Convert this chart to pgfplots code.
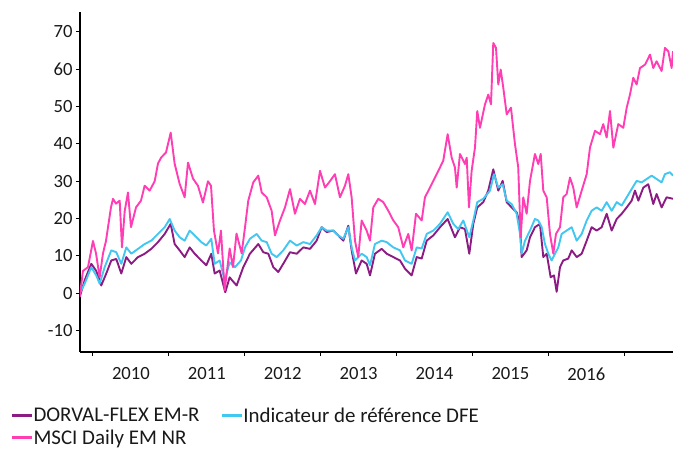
\documentclass[border=0pt]{standalone}
\usepackage{fontspec}
\setmainfont{Carlito}
\usepackage{pgfplots}
\pgfplotsset{compat=1.18}
\definecolor{dorval}{RGB}{140,28,132}
\definecolor{indic}{RGB}{66,199,240}
\definecolor{msci}{RGB}{255,62,180}
\begin{document}
\begin{tikzpicture}
\begin{axis}[name=ax, scale only axis, width=593bp, height=340bp,
  xmin=2009.829, xmax=2017.642, ymin=-15.7, ymax=75.3,
  axis lines=left, axis line style={line width=1.5bp, -},
  ytick={-10,0,10,20,30,40,50,60,70},
  xtick={2010,2011,2012,2013,2014,2015,2016,2017}, xticklabels={},
  extra x ticks={2010.5,2011.5,2012.5,2013.5,2014.5,2015.5,2016.5},
  extra x tick labels={2010,2011,2012,2013,2014,2015,2016},
  extra x tick style={major tick length=0pt, xticklabel style={yshift=-12bp}},
  tick align=outside, major tick length=4bp, tick style={black, line width=1bp},
  ticklabel style={font=\fontsize{18.7}{22}\selectfont, text=black!90},
  /pgf/number format/assume math mode=true,
  legend columns=2, legend cell align=left,
  legend style={draw=none, fill=none, inner sep=0pt, at={(-0.118,-0.162)}, anchor=north west,
    font=\fontsize{21}{25}\selectfont, text=black!90, nodes={inner sep=0.5bp}, row sep=5bp,
    /tikz/every even column/.append style={column sep=20bp}},
  legend image code/.code={\draw[#1, line width=2.8bp] (0bp,0bp) -- (20bp,0bp);},
  every axis plot/.append style={line width=1.9bp, line join=round},
]
\addplot[dorval] coordinates {
(2009.825,-1) (2009.891,3.5) (2009.978,7.9) (2010.043,6) (2010.109,2.1) (2010.175,5.3)
(2010.241,8.8) (2010.307,9.2) (2010.373,5.3) (2010.439,9.7) (2010.505,7.9) (2010.593,9.7)
(2010.681,10.6) (2010.768,11.9) (2010.856,13.7) (2010.945,15.9) (2011.024,18.6) (2011.076,13.2)
(2011.142,11.5) (2011.208,9.7) (2011.274,12.3) (2011.340,10.6) (2011.427,8.8) (2011.493,7.5)
(2011.559,10.6) (2011.603,5.3) (2011.669,6.1) (2011.743,0.3) (2011.801,4.3) (2011.832,3.5)
(2011.893,2.1) (2011.980,7) (2012.068,10.6) (2012.178,13.2) (2012.244,11) (2012.310,10.6)
(2012.376,7) (2012.441,5.7) (2012.507,7.9) (2012.596,11) (2012.684,10.6) (2012.771,12.3)
(2012.859,11.9) (2012.947,14.1) (2013.013,17.7) (2013.079,16.4) (2013.166,16.8) (2013.232,15.5)
(2013.298,14.1) (2013.364,18.1) (2013.408,11.5) (2013.465,5.3) (2013.540,8.8) (2013.606,7.9)
(2013.650,4.8) (2013.715,10.6) (2013.804,11.9) (2013.870,10.6) (2013.957,9.7) (2014.045,8.8)
(2014.111,6.6) (2014.199,4.8) (2014.265,9.7) (2014.331,9.3) (2014.397,14.1) (2014.484,15.5)
(2014.572,17.7) (2014.673,19.9) (2014.769,15) (2014.835,17.7) (2014.901,17.2) (2014.958,10.6)
(2015.011,18.6) (2015.063,23) (2015.142,24.4) (2015.208,27.5) (2015.274,33.2) (2015.340,27.5)
(2015.398,30.1) (2015.451,24.4) (2015.516,23) (2015.582,21.7) (2015.626,18.6) (2015.648,9.7)
(2015.714,11.5) (2015.758,15) (2015.823,17.7) (2015.889,18.6) (2015.933,9.7) (2015.978,10.6)
(2016.030,4.3) (2016.074,4.8) (2016.109,0.4) (2016.153,7) (2016.196,8.8) (2016.262,9.3)
(2016.307,11.5) (2016.373,9.7) (2016.439,10.6) (2016.505,14.1) (2016.570,17.7) (2016.636,16.8)
(2016.702,17.7) (2016.768,21.3) (2016.834,16.8) (2016.900,19.9) (2016.966,21.3) (2017.032,23)
(2017.097,24.8) (2017.141,27.5) (2017.185,24.8) (2017.251,28.3) (2017.316,29.2) (2017.382,23.9)
(2017.426,26.6) (2017.492,23) (2017.558,25.7) (2017.642,25.3)
};
\addlegendentry{DORVAL-FLEX EM-R}
\addplot[indic] coordinates {
(2009.825,0) (2009.891,2.6) (2009.978,7) (2010.043,4.8) (2010.088,2.6) (2010.154,7)
(2010.241,11.5) (2010.307,11) (2010.373,7.9) (2010.439,12.3) (2010.505,10.6) (2010.593,11.9)
(2010.681,13.2) (2010.768,14.1) (2010.856,15.9) (2010.945,17.7) (2011.011,19.9) (2011.076,16.8)
(2011.142,15) (2011.208,14.1) (2011.274,16.8) (2011.340,15.5) (2011.427,13.7) (2011.493,12.8)
(2011.559,14.6) (2011.603,7.9) (2011.669,8.8) (2011.735,3.5) (2011.801,8.3) (2011.871,7)
(2011.950,8.8) (2012.003,12.3) (2012.068,14.6) (2012.157,15.9) (2012.223,14.1) (2012.289,13.7)
(2012.354,10.6) (2012.420,9.7) (2012.507,11.5) (2012.596,14.1) (2012.684,12.8) (2012.771,13.7)
(2012.859,13.2) (2012.947,15.5) (2013.013,17.7) (2013.079,16.8) (2013.166,16.8) (2013.232,15.5)
(2013.298,14.6) (2013.364,17.7) (2013.408,12.3) (2013.452,8.8) (2013.540,10.6) (2013.606,9.7)
(2013.650,7.5) (2013.715,13.2) (2013.804,14.1) (2013.870,13.7) (2013.957,12.3) (2014.045,11.5)
(2014.111,8.8) (2014.199,7.9) (2014.265,12.3) (2014.331,12) (2014.397,15.9) (2014.484,16.8)
(2014.572,18.6) (2014.673,21.7) (2014.747,18.6) (2014.813,17.2) (2014.879,19.5) (2014.958,15)
(2015.011,19.5) (2015.063,24.4) (2015.142,25.3) (2015.231,27.5) (2015.283,31.9) (2015.340,28.3)
(2015.398,29.2) (2015.451,24.8) (2015.516,23.9) (2015.582,21.3) (2015.626,15.9) (2015.648,10.6)
(2015.692,14.1) (2015.758,16.8) (2015.823,19.9) (2015.867,19.5) (2015.912,17.7) (2015.955,13.2)
(2015.999,10.6) (2016.043,8.8) (2016.087,10.6) (2016.131,12.3) (2016.175,15.9) (2016.241,16.8)
(2016.307,17.7) (2016.373,14.1) (2016.439,15.9) (2016.505,19.5) (2016.570,22.1) (2016.636,23)
(2016.702,22.1) (2016.768,24.4) (2016.834,22.1) (2016.900,24.4) (2016.966,23.5) (2017.032,25.7)
(2017.097,27.9) (2017.163,30.1) (2017.229,29.7) (2017.295,30.6) (2017.361,31.5) (2017.426,30.6)
(2017.492,29.7) (2017.536,31.9) (2017.602,32.4) (2017.642,31.5)
};
\addlegendentry{Indicateur de référence DFE}
\addplot[msci] coordinates {
(2009.825,-1) (2009.868,6) (2009.934,7) (2010.000,14) (2010.040,10.7) (2010.088,4.3)
(2010.132,10.7) (2010.171,14) (2010.237,23) (2010.264,25.3) (2010.303,24) (2010.352,24.8)
(2010.382,12.3) (2010.418,22) (2010.461,27) (2010.501,17.7) (2010.567,23) (2010.632,24.8)
(2010.681,28.8) (2010.747,27.5) (2010.813,30) (2010.856,34.7) (2010.896,36.3) (2010.962,37.7)
(2011.024,43) (2011.076,34.7) (2011.142,29.3) (2011.208,25.7) (2011.252,35) (2011.318,30.7)
(2011.383,28.8) (2011.449,24.3) (2011.515,30) (2011.555,28.8) (2011.594,16.8) (2011.647,10.7)
(2011.686,16.8) (2011.735,0.8) (2011.801,12) (2011.845,7) (2011.891,16) (2011.959,10.7)
(2012.003,17.7) (2012.046,24.8) (2012.112,29.7) (2012.178,31.5) (2012.223,27) (2012.289,25.7)
(2012.354,22.1) (2012.398,15.5) (2012.464,19.5) (2012.530,23) (2012.596,27.9) (2012.661,21.3)
(2012.727,25.3) (2012.793,23.9) (2012.859,27.5) (2012.925,23.9) (2012.991,32.8) (2013.057,28.3)
(2013.122,30) (2013.188,31.9) (2013.254,25.7) (2013.320,28.8) (2013.364,31.9) (2013.408,25.7)
(2013.452,14.1) (2013.495,9.7) (2013.540,19.5) (2013.606,16.8) (2013.650,14.1) (2013.693,23)
(2013.759,25.3) (2013.825,24.4) (2013.891,22.1) (2013.957,19.5) (2014.022,17.7) (2014.088,12.3)
(2014.154,15.9) (2014.199,11.5) (2014.256,21.3) (2014.331,19.5) (2014.374,25.7) (2014.440,28.3)
(2014.506,31) (2014.572,33.7) (2014.615,35.5) (2014.673,42.6) (2014.726,36.3) (2014.769,33.7)
(2014.792,28.3) (2014.835,37.3) (2014.901,34.6) (2014.924,36.3) (2014.954,23) (2014.989,32.8)
(2015.033,39) (2015.063,48.8) (2015.099,44.3) (2015.165,50.6) (2015.208,53.2) (2015.244,50.6)
(2015.274,67) (2015.310,65.7) (2015.340,55.9) (2015.372,59.9) (2015.406,55) (2015.451,47.9)
(2015.507,49.7) (2015.560,39.9) (2015.603,33.7) (2015.635,15) (2015.669,25.7) (2015.714,21.3)
(2015.758,30.1) (2015.823,37.3) (2015.867,34.6) (2015.899,37.3) (2015.933,27.5) (2015.978,25.7)
(2016.021,15.9) (2016.065,10.6) (2016.100,15.9) (2016.153,17.7) (2016.196,25.7) (2016.241,26.6)
(2016.285,31) (2016.328,28.3) (2016.373,23) (2016.439,27.5) (2016.505,31.9) (2016.548,39)
(2016.614,43.5) (2016.680,42.6) (2016.723,45.3) (2016.768,41.7) (2016.812,48.8) (2016.856,39)
(2016.921,45.3) (2016.987,44.3) (2017.032,49.7) (2017.075,53.2) (2017.119,57.7) (2017.163,55.9)
(2017.207,60.3) (2017.273,61.2) (2017.339,63.9) (2017.382,60.3) (2017.426,62.1) (2017.492,59.5)
(2017.536,65.7) (2017.580,64.8) (2017.624,60.3) (2017.642,64.8)
};
\addlegendentry{MSCI Daily EM NR}
\end{axis}
\pgfresetboundingbox
\path ([shift={(-80bp,-100bp)}]ax.south west) rectangle ([shift={(0bp,12bp)}]ax.north east);
\end{tikzpicture}
\end{document}
